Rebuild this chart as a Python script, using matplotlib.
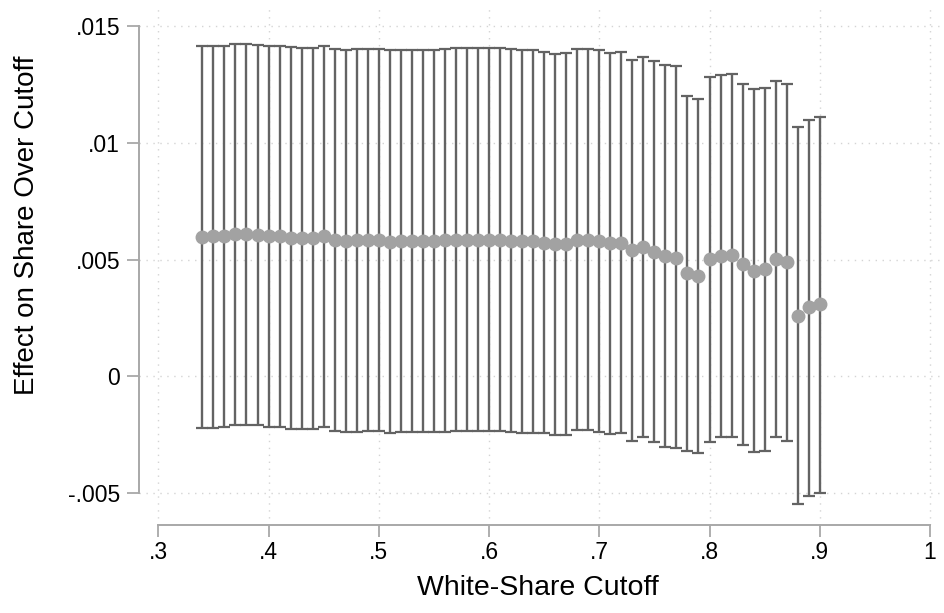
import matplotlib.pyplot as plt
import numpy as np

plt.rcParams['font.family'] = ['Liberation Sans', 'DejaVu Sans']

# white-share cutoffs and estimated effect with 95% CI
cutoff = [0.34, 0.35, 0.36, 0.37, 0.38, 0.39, 0.40, 0.41, 0.42, 0.43,
          0.44, 0.45, 0.46, 0.47, 0.48, 0.49, 0.50, 0.51, 0.52, 0.53,
          0.54, 0.55, 0.56, 0.57, 0.58, 0.59, 0.60, 0.61, 0.62, 0.63,
          0.64, 0.65, 0.66, 0.67, 0.68, 0.69, 0.70, 0.71, 0.72, 0.73,
          0.74, 0.75, 0.76, 0.77, 0.78, 0.79, 0.80, 0.81, 0.82, 0.83,
          0.84, 0.85, 0.86, 0.87, 0.88, 0.89, 0.90]

effect = [0.00597, 0.00601, 0.00600, 0.00611, 0.00611, 0.00607, 0.00601, 0.00600, 0.00593, 0.00593,
          0.00593, 0.00601, 0.00586, 0.00580, 0.00583, 0.00586, 0.00583, 0.00576, 0.00580, 0.00580,
          0.00580, 0.00580, 0.00583, 0.00583, 0.00586, 0.00586, 0.00586, 0.00583, 0.00580, 0.00580,
          0.00580, 0.00573, 0.00566, 0.00569, 0.00586, 0.00586, 0.00580, 0.00572, 0.00573, 0.00540,
          0.00554, 0.00533, 0.00516, 0.00509, 0.00444, 0.00430, 0.00503, 0.00515, 0.00518, 0.00481,
          0.00452, 0.00459, 0.00502, 0.00488, 0.00260, 0.00295, 0.00309]

ci_hi = [0.01414, 0.01417, 0.01417, 0.01425, 0.01425, 0.01421, 0.01417, 0.01416, 0.01410, 0.01408,
         0.01408, 0.01416, 0.01401, 0.01397, 0.01401, 0.01404, 0.01403, 0.01397, 0.01398, 0.01398,
         0.01398, 0.01398, 0.01404, 0.01408, 0.01408, 0.01408, 0.01408, 0.01406, 0.01401, 0.01398,
         0.01398, 0.01391, 0.01381, 0.01386, 0.01404, 0.01403, 0.01397, 0.01387, 0.01388, 0.01356,
         0.01370, 0.01349, 0.01335, 0.01328, 0.01200, 0.01186, 0.01281, 0.01291, 0.01295, 0.01254,
         0.01230, 0.01235, 0.01267, 0.01252, 0.01067, 0.01098, 0.01113]

ci_lo = [-0.00223, -0.00220, -0.00218, -0.00207, -0.00207, -0.00210, -0.00216, -0.00217, -0.00226, -0.00227,
         -0.00227, -0.00217, -0.00233, -0.00238, -0.00237, -0.00234, -0.00235, -0.00241, -0.00238, -0.00238,
         -0.00238, -0.00238, -0.00237, -0.00234, -0.00234, -0.00233, -0.00233, -0.00235, -0.00238, -0.00241,
         -0.00241, -0.00244, -0.00253, -0.00250, -0.00230, -0.00230, -0.00237, -0.00245, -0.00244, -0.00275,
         -0.00261, -0.00282, -0.00301, -0.00308, -0.00318, -0.00328, -0.00280, -0.00261, -0.00261, -0.00294,
         -0.00325, -0.00318, -0.00261, -0.00277, -0.00548, -0.00514, -0.00501]

xticks = [0.3, 0.4, 0.5, 0.6, 0.7, 0.8, 0.9, 1.0]
xtick_labels = ['.3', '.4', '.5', '.6', '.7', '.8', '.9', '1']
yticks = [-0.005, 0, 0.005, 0.01, 0.015]
ytick_labels = ['-.005', '0', '.005', '.01', '.015']

effect = np.array(effect)
yerr = [effect - np.array(ci_lo), np.array(ci_hi) - effect]

fig = plt.figure(figsize=(9.45, 6.13), dpi=100)
ax = fig.add_axes([139 / 945, 1 - 525 / 613, 805 / 945, 517 / 613])

ax.errorbar(cutoff, effect, yerr=yerr, fmt='none', ecolor='#636363',
            elinewidth=1.7, capsize=4.4, capthick=1.6, zorder=3)
ax.plot(cutoff, effect, 'o', color='#a2a2a2', markersize=9, zorder=4)

ax.set_xlim(0.2825, 1.0127)
ax.set_ylim(-0.00637, 0.01578)

ax.set_xticks(xticks)
ax.set_xticklabels(xtick_labels)
ax.set_yticks(yticks)
ax.set_yticklabels(ytick_labels)

ax.grid(True, color='#d4d4d4', linestyle=(0, (1, 4)), linewidth=1.0, zorder=0)
ax.set_axisbelow(True)

for s in ['top', 'right']:
    ax.spines[s].set_visible(False)
ax.spines['left'].set_bounds(-0.005, 0.015)
ax.spines['bottom'].set_bounds(0.3, 1.0)
for s in ['left', 'bottom']:
    ax.spines[s].set_color('#a8a8a8')
    ax.spines[s].set_linewidth(1.4)

ax.tick_params(axis='both', direction='out', length=8.6, width=1.3,
               color='#a8a8a8', labelsize=16.5, labelcolor='black')
ax.tick_params(axis='y', pad=5)
ax.tick_params(axis='x', pad=3)

fig.text(27 / 945, 1 - 225 / 613, 'Effect on Share Over Cutoff', rotation=90,
         ha='center', va='center', fontsize=20)
fig.text(538 / 945, 1 - 588 / 613, 'White-Share Cutoff',
         ha='center', va='center', fontsize=20.5)

fig.savefig('out.png', dpi=100)
